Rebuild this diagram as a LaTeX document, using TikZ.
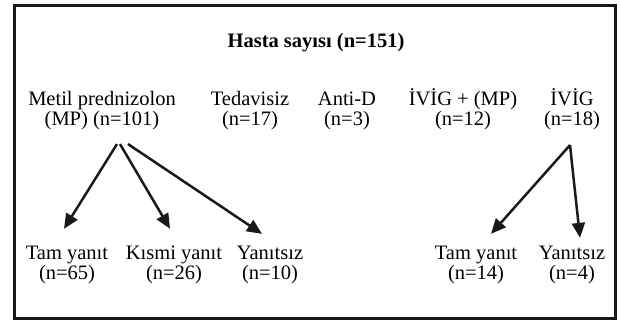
\documentclass[tikz,border=0pt]{standalone}
\usepackage{fontspec}
\setmainfont{Liberation Serif}
\usetikzlibrary{arrows.meta,calc}
\begin{document}
\begin{tikzpicture}[x=1pt,y=-1pt,
  lbl/.style={inner sep=0pt, align=center, anchor=base, font=\fontsize{20.5}{19.5}\selectfont},
  ttl/.style={inner sep=0pt, anchor=base, font=\fontsize{20.5}{24}\selectfont\bfseries},
  frame/.style={draw=black!90, line width=2.8pt},
  arr/.style={-{Triangle[length=15pt,width=13pt]}, line width=2.5pt, draw=black!90}]
\useasboundingbox (0,0) rectangle (620,324);
\draw[frame] (14.5,5.5) rectangle (615.5,318.5);
\node[ttl] (t) at (316,47) {Hasta sayısı (n=151)};
\node[lbl] (mp) at (102,125) {Metil prednizolon\\(MP) (n=101)};
\node[lbl] (ted) at (250,125) {Tedavisiz\\(n=17)};
\node[lbl] (antid) at (347,125) {Anti-D\\(n=3)};
\node[lbl] (ivigmp) at (463,125) {İVİG + (MP)\\(n=12)};
\node[lbl] (ivig) at (572,125) {İVİG\\(n=18)};
\node[lbl] (c1) at (67,279) {Tam yanıt\\(n=65)};
\node[lbl] (c2) at (174,279) {Kısmi yanıt\\(n=26)};
\node[lbl] (c3) at (270,279) {Yanıtsız\\(n=10)};
\node[lbl] (c4) at (476,279) {Tam yanıt\\(n=14)};
\node[lbl] (c5) at (572,279) {Yanıtsız\\(n=4)};
\draw[arr] ($(mp.south)+(15,14.5)$) -- ($(c1.north)+(-3,-17)$);
\draw[arr] ($(mp.south)+(18,14.5)$) -- ($(c2.north)+(-4,-17)$);
\draw[arr] ($(mp.south)+(26,14.5)$) -- ($(c3.north)+(-8,-12)$);
\draw[arr] ($(ivig.south)+(-2,15.5)$) -- ($(c4.north)+(15,-12)$);
\draw[arr] ($(ivig.south)+(-2,15.5)$) -- ($(c5.north)+(8,-8)$);
\end{tikzpicture}
\end{document}
